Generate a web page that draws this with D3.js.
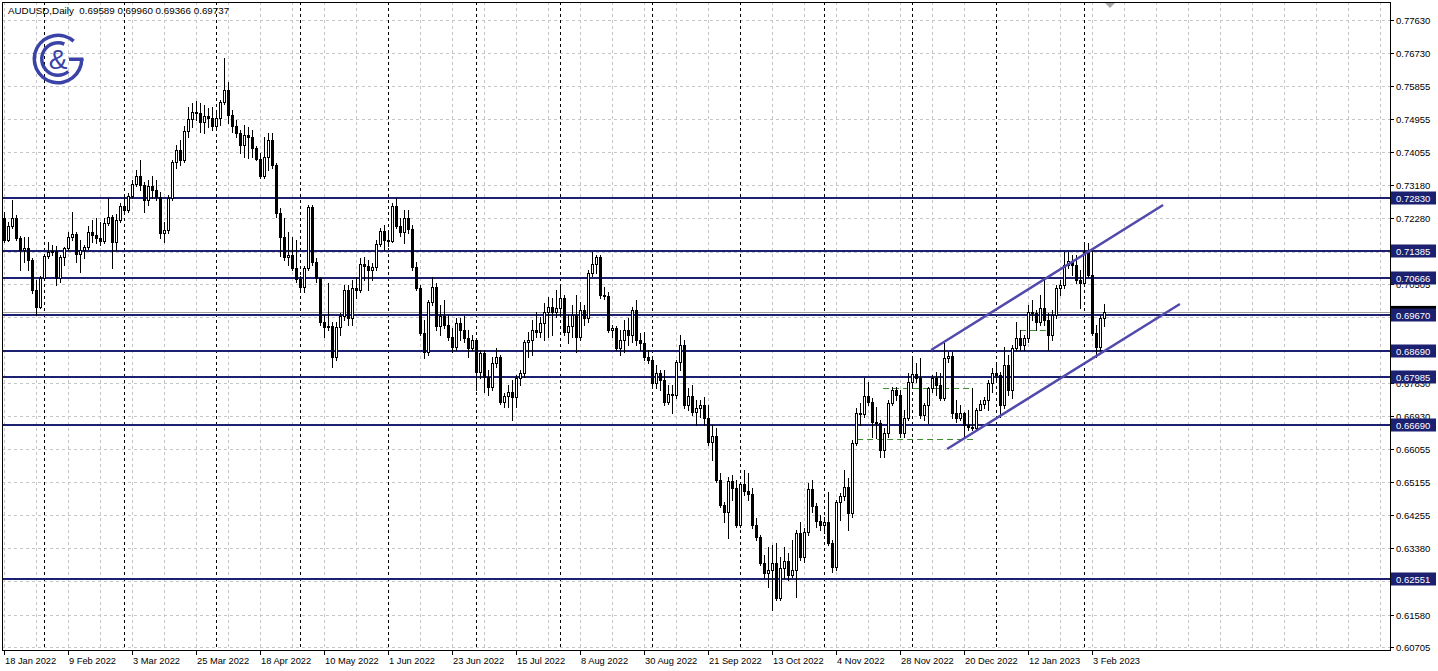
<!DOCTYPE html>
<html><head><meta charset="utf-8">
<script src="https://cdn.jsdelivr.net/npm/d3@7"></script>
<style>html,body{margin:0;padding:0;background:#fff;overflow:hidden}</style>
</head><body><svg id="c" width="1438" height="671"></svg>
<script>
const symbolTitle = "AUDUSD,Daily";
const headerValues = ["0.69589","0.69960","0.69366","0.69737"];

const openP = [0.7228,0.7169,0.7207,0.7228,0.7174,0.7142,0.7147,0.7115,0.7034,0.6988,0.7066,0.7126,0.7137,0.7139,0.7066,0.7123,0.7147,0.7177,0.7185,0.7131,0.7142,0.7150,0.7191,0.7182,0.7174,0.7166,0.7215,0.7231,0.7164,0.7223,
0.7261,0.7250,0.7288,0.7320,0.7342,0.7317,0.7277,0.7315,0.7304,0.7285,0.7188,0.7196,0.7282,0.7380,0.7412,0.7385,0.7463,0.7496,0.7515,0.7512,0.7488,0.7504,0.7498,0.7477,0.7498,0.7542,0.7574,0.7506,0.7477,0.7458,
0.7425,0.7452,0.7447,0.7417,0.7388,0.7342,0.7393,0.7439,0.7371,0.7242,0.7177,0.7123,0.7128,0.7093,0.7064,0.7042,0.7093,0.7258,0.7110,0.7066,0.6948,0.6934,0.6937,0.6853,0.6934,0.6964,0.7034,0.6958,0.7039,0.7034,
0.7104,0.7099,0.7088,0.7096,0.7158,0.7193,0.7169,0.7166,0.7261,0.7207,0.7191,0.7228,0.7199,0.7096,0.7039,0.6918,0.6867,0.7002,0.7042,0.6937,0.6964,0.6939,0.6907,0.6880,0.6945,0.6926,0.6904,0.6877,0.6899,0.6813,
0.6864,0.6799,0.6772,0.6837,0.6853,0.6732,0.6748,0.6759,0.6745,0.6796,0.6810,0.6894,0.6899,0.6926,0.6921,0.6945,0.6975,0.6988,0.6975,0.6985,0.7012,0.6921,0.6937,0.6966,0.6907,0.6980,0.6958,0.7080,0.7104,0.7123,
0.7020,0.7018,0.6926,0.6931,0.6877,0.6899,0.6926,0.6912,0.6980,0.6899,0.6891,0.6853,0.6845,0.6783,0.6810,0.6791,0.6732,0.6753,0.6750,0.6840,0.6885,0.6723,0.6748,0.6705,0.6715,0.6723,0.6688,0.6624,0.6640,0.6521,
0.6453,0.6435,0.6518,0.6499,0.6399,0.6510,0.6491,0.6483,0.6399,0.6367,0.6297,0.6270,0.6278,0.6297,0.6202,0.6283,0.6302,0.6264,0.6278,0.6378,0.6313,0.6381,0.6497,0.6451,0.6410,0.6399,0.6408,0.6351,0.6286,0.6462,
0.6478,0.6502,0.6432,0.6621,0.6702,0.6699,0.6748,0.6732,0.6678,0.6675,0.6602,0.6648,0.6729,0.6764,0.6750,0.6648,0.6688,0.6786,0.6807,0.6796,0.6696,0.6723,0.6769,0.6796,0.6777,0.6742,0.6850,0.6856,0.6702,0.6688,
0.6702,0.6669,0.6664,0.6661,0.6710,0.6726,0.6737,0.6783,0.6810,0.6804,0.6723,0.6831,0.6764,0.6877,0.6904,0.6885,0.6904,0.6975,0.6972,0.6948,0.6985,0.6953,0.6912,0.6966,0.7039,0.7047,0.7101,0.7112,0.7101,0.7061,
0.7053,0.7137,0.7074,0.6918,0.6880,0.69589];

const highP = [0.7245,0.7218,0.7277,0.7236,0.7180,0.7177,0.7177,0.7120,0.7061,0.7072,0.7131,0.7164,0.7155,0.7153,0.7128,0.7150,0.7191,0.7245,0.7191,0.7169,0.7155,0.7207,0.7223,0.7228,0.7218,0.7228,0.7282,0.7236,0.7239,0.7269,
0.7290,0.7296,0.7331,0.7358,0.7385,0.7326,0.7331,0.7342,0.7331,0.7299,0.7218,0.7290,0.7385,0.7425,0.7439,0.7477,0.7528,0.7539,0.7544,0.7539,0.7533,0.7525,0.7528,0.7520,0.7547,0.7660,0.7596,0.7520,0.7493,0.7466,
0.7479,0.7474,0.7466,0.7423,0.7404,0.7447,0.7458,0.7458,0.7377,0.7255,0.7228,0.7191,0.7177,0.7169,0.7072,0.7099,0.7263,0.7263,0.7120,0.7069,0.6966,0.7053,0.6948,0.6948,0.6972,0.7047,0.7047,0.7061,0.7069,0.7120,
0.7123,0.7115,0.7107,0.7169,0.7201,0.7209,0.7191,0.7269,0.7282,0.7228,0.7250,0.7250,0.7209,0.7110,0.7047,0.6953,0.7007,0.7069,0.7053,0.6993,0.7007,0.6966,0.6931,0.6958,0.6958,0.6964,0.6926,0.6912,0.6904,0.6872,
0.6872,0.6818,0.6853,0.6877,0.6858,0.6756,0.6777,0.6791,0.6804,0.6818,0.6899,0.6921,0.6953,0.6975,0.6961,0.6999,0.7015,0.7012,0.7034,0.7042,0.7020,0.6966,0.6993,0.7020,0.7001,0.6993,0.7088,0.7137,0.7128,0.7128,
0.7042,0.7029,0.6939,0.6937,0.6926,0.6953,0.6958,0.6988,0.7007,0.6918,0.6921,0.6872,0.6850,0.6831,0.6818,0.6818,0.6777,0.6777,0.6845,0.6912,0.6899,0.6769,0.6777,0.6737,0.6737,0.6745,0.6723,0.6669,0.6661,0.6540,
0.6462,0.6529,0.6534,0.6521,0.6516,0.6548,0.6540,0.6499,0.6418,0.6372,0.6318,0.6340,0.6346,0.6351,0.6313,0.6340,0.6324,0.6359,0.6386,0.6408,0.6391,0.6513,0.6521,0.6459,0.6426,0.6421,0.6489,0.6359,0.6467,0.6486,
0.6548,0.6526,0.6629,0.6715,0.6729,0.6796,0.6786,0.6742,0.6718,0.6683,0.6661,0.6737,0.6772,0.6772,0.6764,0.6710,0.6810,0.6853,0.6837,0.6850,0.6729,0.6772,0.6804,0.6813,0.6810,0.6891,0.6867,0.6867,0.6737,0.6723,
0.6705,0.6710,0.6769,0.6715,0.6737,0.6745,0.6791,0.6823,0.6831,0.6813,0.6880,0.6858,0.6885,0.6948,0.6926,0.6912,0.6993,0.7007,0.6980,0.7020,0.7069,0.6972,0.6980,0.7047,0.7061,0.7137,0.7137,0.7128,0.7128,0.7088,
0.7155,0.7161,0.7142,0.6939,0.6966,0.69960];

const lowP = [0.7164,0.7166,0.7201,0.7169,0.7088,0.7110,0.7088,0.7026,0.6966,0.6985,0.7061,0.7120,0.7128,0.7047,0.7056,0.7101,0.7142,0.7169,0.7110,0.7083,0.7120,0.7145,0.7164,0.7161,0.7155,0.7161,0.7209,0.7093,0.7142,0.7218,
0.7239,0.7245,0.7282,0.7315,0.7304,0.7245,0.7263,0.7282,0.7277,0.7174,0.7164,0.7188,0.7277,0.7363,0.7371,0.7380,0.7447,0.7474,0.7493,0.7461,0.7458,0.7474,0.7466,0.7471,0.7479,0.7536,0.7485,0.7461,0.7447,0.7404,
0.7393,0.7390,0.7393,0.7385,0.7336,0.7336,0.7358,0.7363,0.7231,0.7126,0.7115,0.7101,0.7088,0.7056,0.7034,0.7029,0.7088,0.7101,0.7056,0.6939,0.6907,0.6926,0.6826,0.6845,0.6912,0.6953,0.6939,0.6939,0.7012,0.7029,
0.7061,0.7034,0.7061,0.7088,0.7153,0.7142,0.7153,0.7164,0.7201,0.7180,0.7161,0.7188,0.7088,0.7034,0.6912,0.6850,0.6858,0.6993,0.6926,0.6912,0.6931,0.6899,0.6867,0.6872,0.6899,0.6894,0.6853,0.6872,0.6764,0.6796,
0.6759,0.6750,0.6764,0.6826,0.6726,0.6718,0.6718,0.6683,0.6718,0.6777,0.6799,0.6853,0.6858,0.6907,0.6907,0.6899,0.6907,0.6912,0.6961,0.6966,0.6912,0.6891,0.6907,0.6867,0.6899,0.6939,0.6948,0.7072,0.7080,0.7012,
0.7010,0.6921,0.6907,0.6872,0.6858,0.6867,0.6885,0.6894,0.6885,0.6872,0.6845,0.6837,0.6772,0.6769,0.6764,0.6723,0.6726,0.6702,0.6742,0.6818,0.6715,0.6710,0.6696,0.6669,0.6691,0.6669,0.6615,0.6575,0.6516,0.6448,
0.6408,0.6364,0.6467,0.6394,0.6394,0.6480,0.6467,0.6391,0.6359,0.6291,0.6256,0.6232,0.6170,0.6197,0.6197,0.6256,0.6251,0.6259,0.6205,0.6305,0.6300,0.6372,0.6435,0.6394,0.6386,0.6378,0.6346,0.6273,0.6278,0.6413,
0.6467,0.6386,0.6421,0.6615,0.6669,0.6691,0.6723,0.6637,0.6634,0.6583,0.6583,0.6637,0.6723,0.6737,0.6637,0.6637,0.6683,0.6777,0.6786,0.6688,0.6683,0.6675,0.6759,0.6750,0.6737,0.6737,0.6840,0.6688,0.6678,0.6683,
0.6634,0.6656,0.6656,0.6656,0.6710,0.6715,0.6710,0.6759,0.6791,0.6691,0.6715,0.6750,0.6742,0.6872,0.6872,0.6872,0.6894,0.6953,0.6926,0.6939,0.6939,0.6872,0.6899,0.6958,0.7020,0.7039,0.7093,0.7074,0.7053,0.6985,
0.7047,0.7069,0.6912,0.6853,0.6872,0.69366];

const closeP = [0.7169,0.7207,0.7228,0.7174,0.7142,0.7147,0.7115,0.7034,0.6988,0.7066,0.7126,0.7137,0.7139,0.7066,0.7123,0.7147,0.7177,0.7185,0.7131,0.7142,0.7150,0.7191,0.7182,0.7174,0.7166,0.7215,0.7231,0.7164,0.7223,0.7261,
0.7250,0.7288,0.7320,0.7342,0.7317,0.7277,0.7315,0.7304,0.7285,0.7188,0.7196,0.7282,0.7380,0.7412,0.7385,0.7463,0.7496,0.7515,0.7512,0.7488,0.7504,0.7498,0.7477,0.7498,0.7542,0.7574,0.7506,0.7477,0.7458,0.7425,
0.7452,0.7447,0.7417,0.7388,0.7342,0.7393,0.7439,0.7371,0.7242,0.7177,0.7123,0.7128,0.7093,0.7064,0.7042,0.7093,0.7258,0.7110,0.7066,0.6948,0.6934,0.6937,0.6853,0.6934,0.6964,0.7034,0.6958,0.7039,0.7034,0.7104,
0.7099,0.7088,0.7096,0.7158,0.7193,0.7169,0.7166,0.7261,0.7207,0.7191,0.7228,0.7199,0.7096,0.7039,0.6918,0.6867,0.7002,0.7042,0.6937,0.6964,0.6939,0.6907,0.6880,0.6945,0.6926,0.6904,0.6877,0.6899,0.6813,0.6864,
0.6799,0.6772,0.6837,0.6853,0.6732,0.6748,0.6759,0.6745,0.6796,0.6810,0.6894,0.6899,0.6926,0.6921,0.6945,0.6975,0.6988,0.6975,0.6985,0.7012,0.6921,0.6937,0.6966,0.6907,0.6980,0.6958,0.7080,0.7104,0.7123,0.7020,
0.7018,0.6926,0.6931,0.6877,0.6899,0.6926,0.6912,0.6980,0.6899,0.6891,0.6853,0.6845,0.6783,0.6810,0.6791,0.6732,0.6753,0.6750,0.6840,0.6885,0.6723,0.6748,0.6705,0.6715,0.6723,0.6688,0.6624,0.6640,0.6521,0.6453,
0.6435,0.6518,0.6499,0.6399,0.6510,0.6491,0.6483,0.6399,0.6367,0.6297,0.6270,0.6278,0.6297,0.6202,0.6283,0.6302,0.6264,0.6278,0.6378,0.6313,0.6381,0.6497,0.6451,0.6410,0.6399,0.6408,0.6351,0.6286,0.6462,0.6478,
0.6502,0.6432,0.6621,0.6702,0.6699,0.6748,0.6732,0.6678,0.6675,0.6602,0.6648,0.6729,0.6764,0.6750,0.6648,0.6688,0.6786,0.6807,0.6796,0.6696,0.6723,0.6769,0.6796,0.6777,0.6742,0.6850,0.6856,0.6702,0.6688,0.6702,
0.6669,0.6664,0.6661,0.6710,0.6726,0.6737,0.6783,0.6810,0.6804,0.6723,0.6831,0.6764,0.6877,0.6904,0.6885,0.6904,0.6975,0.6972,0.6948,0.6985,0.6953,0.6912,0.6966,0.7039,0.7047,0.7101,0.7112,0.7101,0.7061,0.7053,
0.7137,0.7074,0.6918,0.6880,0.6958,0.69737];

const timeLabels = ["18 Jan 2022","9 Feb 2022","3 Mar 2022","25 Mar 2022","18 Apr 2022","10 May 2022","1 Jun 2022","23 Jun 2022","15 Jul 2022","8 Aug 2022","30 Aug 2022","21 Sep 2022","13 Oct 2022","4 Nov 2022","28 Nov 2022","20 Dec 2022","12 Jan 2023","3 Feb 2023"];
const timeLabelBars = [0,16,32,48,64,80,96,112,128,144,160,176,192,208,224,240,256,272];
const monthStartBars = [10,30,53,74,96,118,139,162,184,205,227,248,270];
// price grid levels; labelled ones are those visible on the axis
const priceTicks = [0.77630,0.76730,0.75855,0.74955,0.74055,0.73180,0.72280,0.71380,0.70505,0.69605,0.68730,0.67830,0.66930,0.66055,0.65155,0.64255,0.63380,0.62480,0.61580,0.60705];
const labelledTicks = [0.77630,0.76730,0.75855,0.74955,0.74055,0.73180,0.72280,0.70505,0.67830,0.66930,0.66055,0.65155,0.64255,0.63380,0.62480,0.61580,0.60705];
const levelPrices = [0.72830,0.71385,0.70666,0.69670,0.68690,0.67985,0.66690,0.62551];
const lastPrice = 0.69737;
const channelUpper = [[231.7,0.68722],[289.7,0.72636]];
const channelLower = [[235.7,0.66050],[293.9,0.69964]];
const greenDashes = [{from:219.7,to:242.2,price:0.6769},{from:213.2,to:242.7,price:0.6632},{from:253.9,to:261.4,price:0.6926}];

const W=1438, H=671;
const P={l:2,t:2,r:1390,b:650};
const x = d3.scaleLinear().domain([0,275]).range([4.3,1104.3]);
const y = d3.scaleLinear().domain([0.60705,0.77630]).range([647,20]);
const navy = "#1c2070";
const svg = d3.select("#c");
svg.append("rect").attr("width",W).attr("height",H).attr("fill","#fff");
const defs = svg.append("defs");
defs.append("clipPath").attr("id","pc").append("rect").attr("x",P.l).attr("y",P.t).attr("width",P.r-P.l).attr("height",P.b-P.t);
const g = svg.append("g").attr("clip-path","url(#pc)");
const px = v => Math.round(v)+0.5;

// horizontal grid
g.selectAll("line.hg").data(priceTicks).join("line").attr("class","hg")
  .attr("x1",P.l).attr("x2",P.r).attr("y1",d=>px(y(d))).attr("y2",d=>px(y(d)))
  .attr("stroke","#c6c6c6").attr("stroke-dasharray","3,3");
// vertical grid
const vg = d3.range(0,400,8).filter(b=>x(b)<P.r);
g.selectAll("line.vg").data(vg).join("line").attr("class","vg")
  .attr("x1",d=>px(x(d))).attr("x2",d=>px(x(d))).attr("y1",P.t).attr("y2",P.b)
  .attr("stroke","#c6c6c6").attr("stroke-dasharray","3,3");
// month separators
g.selectAll("line.ms").data(monthStartBars).join("line").attr("class","ms")
  .attr("x1",d=>px(x(d))).attr("x2",d=>px(x(d))).attr("y1",P.t).attr("y2",P.b)
  .attr("stroke","#000").attr("stroke-dasharray","3,3");

// bid line
g.append("line").attr("x1",P.l).attr("x2",P.r).attr("y1",px(y(lastPrice))).attr("y2",px(y(lastPrice))).attr("stroke","#a0a0a0");

// levels
g.selectAll("line.lv").data(levelPrices).join("line").attr("class","lv")
  .attr("x1",P.l).attr("x2",P.r).attr("y1",d=>Math.round(y(d))).attr("y2",d=>Math.round(y(d)))
  .attr("stroke",navy).attr("stroke-width",2);

// green dashed
g.selectAll("line.gd").data(greenDashes).join("line").attr("class","gd")
  .attr("x1",d=>x(d.from)).attr("x2",d=>x(d.to)).attr("y1",d=>px(y(d.price))).attr("y2",d=>px(y(d.price)))
  .attr("stroke","#3d8b2f").attr("stroke-dasharray","6,4");

// candles
const idx = d3.range(closeP.length);
const cg = g.append("g");
idx.forEach(i=>{
  const c = Math.round(x(i));
  const o=openP[i], cl=closeP[i], h=highP[i], l=lowP[i];
  cg.append("line").attr("x1",c+0.5).attr("x2",c+0.5).attr("y1",Math.round(y(h))).attr("y2",Math.round(y(l))+1).attr("stroke","#000");
  const yt = Math.round(y(Math.max(o,cl))), yb = Math.round(y(Math.min(o,cl)));
  cg.append("rect").attr("x",c-0.5).attr("y",yt+0.5).attr("width",2).attr("height",Math.max(yb-yt,0))
    .attr("fill", cl>=o ? "#fff" : "#000").attr("stroke","#000").attr("stroke-width",1);
});

// channel
[channelUpper,channelLower].forEach(ch=>{
  g.append("line").attr("x1",x(ch[0][0])).attr("y1",y(ch[0][1])).attr("x2",x(ch[1][0])).attr("y2",y(ch[1][1]))
   .attr("stroke","#5149ab").attr("stroke-width",2.5);
});

// logo
const logoColor = "#3b44a6";
const logo = svg.append("g").attr("transform","translate(58,59)");
logo.append("path").attr("d", d3.arc()({innerRadius:22,outerRadius:25.5,startAngle:Math.PI/2,endAngle:2*Math.PI+0.72})).attr("fill",logoColor);
logo.append("path").attr("d", d3.arc()({innerRadius:14.5,outerRadius:18,startAngle:2.45,endAngle:2*Math.PI+0.4})).attr("fill",logoColor);
logo.append("rect").attr("x",11).attr("y",-1.5).attr("width",14.5).attr("height",3.5).attr("fill",logoColor);
logo.append("text").attr("x",0).attr("y",10).attr("text-anchor","middle").attr("font-family","Liberation Sans, Arial, sans-serif").attr("font-size",28).attr("fill",logoColor).text("&");

// frame
svg.append("rect").attr("x",P.l+0.5).attr("y",P.t+0.5).attr("width",P.r-P.l).attr("height",P.b-P.t).attr("fill","none").attr("stroke","#000");

// chart shift marker
svg.append("path").attr("d","M1105,3L1115,3L1110,8Z").attr("fill","#a8a8a8");

const font = "Liberation Sans, Arial, sans-serif";
// header
svg.append("text").attr("x",8).attr("y",14).attr("font-family",font).attr("font-size",9.8).attr("fill","#000")
  .attr("xml:space","preserve").text(symbolTitle+"  "+headerValues.join(" "));

// right axis
const ax = svg.append("g");
ax.selectAll("line.tk").data(priceTicks).join("line").attr("x1",P.r).attr("x2",P.r+4).attr("y1",d=>px(y(d))).attr("y2",d=>px(y(d))).attr("stroke","#000");
ax.selectAll("text.tk").data(labelledTicks).join("text").attr("x",P.r+6).attr("y",d=>Math.round(y(d))+4)
  .attr("font-family",font).attr("font-size",9.5).attr("fill","#000").text(d=>d.toFixed(5));
// last price marker (hidden mostly behind the level box)
ax.append("rect").attr("x",P.r+1).attr("y",y(lastPrice)-6.5).attr("width",45).attr("height",13).attr("fill","#000");
levelPrices.forEach(p=>{
  ax.append("rect").attr("x",P.r+1).attr("y",Math.round(y(p))-6.5).attr("width",45).attr("height",13).attr("fill",navy);
  ax.append("text").attr("x",P.r+6).attr("y",Math.round(y(p))+4).attr("font-family",font).attr("font-size",9.5).attr("fill","#fff").text(p.toFixed(5));
});

// bottom axis
const bx = svg.append("g");
timeLabelBars.forEach((b,k)=>{
  const c = Math.round(x(b));
  bx.append("line").attr("x1",c+0.5).attr("x2",c+0.5).attr("y1",P.b).attr("y2",P.b+5).attr("stroke","#000");
  bx.append("text").attr("x",c+1).attr("y",P.b+14).attr("font-family",font).attr("font-size",9.3).attr("fill","#000").text(timeLabels[k]);
});
</script></body></html>
